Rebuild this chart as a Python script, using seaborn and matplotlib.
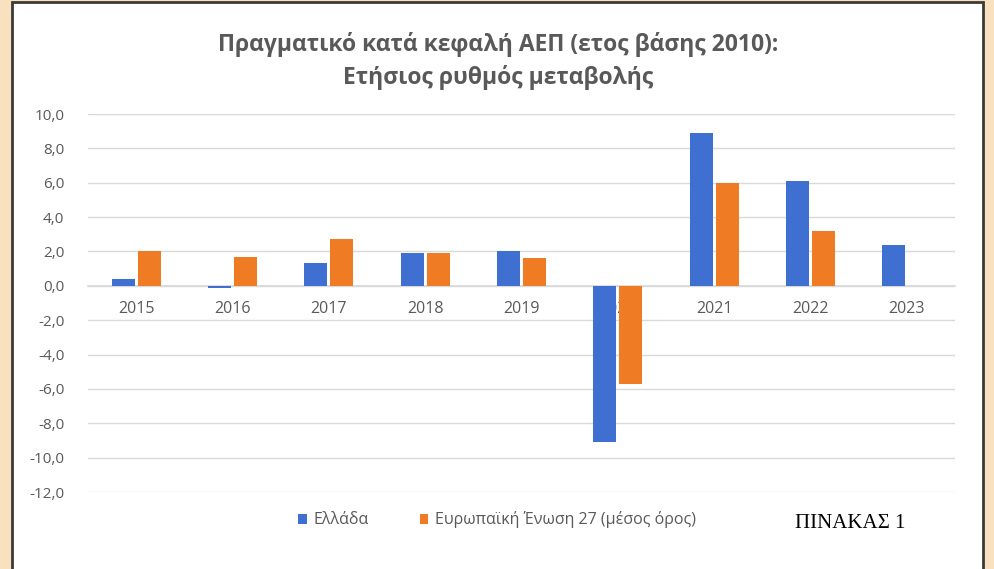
import numpy as np
import pandas as pd
import matplotlib
matplotlib.use("Agg")
import matplotlib.pyplot as plt
import seaborn as sns
from matplotlib.patches import Rectangle
from matplotlib.ticker import FuncFormatter

# --- data ---
years = ["2015", "2016", "2017", "2018", "2019", "2020", "2021", "2022", "2023"]
greece = [0.4, -0.1, 1.3, 1.9, 2.0, -9.1, 8.9, 6.1, 2.4]
eu27 = [2.0, 1.7, 2.7, 1.9, 1.6, -5.7, 6.0, 3.2, np.nan]
series_names = ["Ελλάδα", "Ευρωπαϊκή Ένωση 27 (μέσος όρος)"]
title = "Πραγματικό κατά κεφαλή ΑΕΠ (ετος βάσης 2010):\nΕτήσιος ρυθμός μεταβολής"
yticks = np.arange(-12, 11, 2)

df = pd.DataFrame({
    "year": years * 2,
    "value": greece + eu27,
    "series": [series_names[0]] * len(years) + [series_names[1]] * len(years),
})

sns.set_theme(style="white")
plt.rcParams["font.family"] = ["Open Sans", "DejaVu Sans"]

grey = "#595959"
fig = plt.figure(figsize=(9.95, 5.69), dpi=100)
fig.patch.set_facecolor("#F9E0BF")

# white chart area with dark frame
frame = Rectangle((12 / 995, -0.02), 971 / 995, 1 - 1.5 / 569 + 0.02,
                  transform=fig.transFigure, facecolor="white",
                  edgecolor="#3a3a3a", linewidth=2, zorder=0)
fig.add_artist(frame)

ax = fig.add_axes([88 / 995, 1 - 492 / 569, (955 - 88) / 995, (492 - 114) / 569])
ax.set_facecolor("none")

sns.barplot(data=df, x="year", y="value", hue="series",
            palette=["#3F6FD0", "#F07B25"], width=0.54, gap=0.12,
            saturation=1, linewidth=0, ax=ax, legend=True)

ax.set_ylim(-12, 10)
ax.set_yticks(yticks)
ax.yaxis.set_major_formatter(FuncFormatter(lambda v, p: f"{v:.1f}".replace(".", ",")))
ax.grid(axis="y", color="#D9D9D9", linewidth=1)
ax.grid(axis="x", visible=False)
ax.set_axisbelow(True)

for s in ["top", "right", "left"]:
    ax.spines[s].set_visible(False)
ax.spines["bottom"].set_position(("data", 0))
ax.spines["bottom"].set_color("#D9D9D9")
ax.spines["bottom"].set_zorder(0.5)

ax.tick_params(axis="x", length=0, pad=11, labelsize=11.5, labelcolor=grey)
ax.tick_params(axis="y", length=0, pad=17, labelsize=11, labelcolor=grey)
ax.set_xlabel("")
ax.set_ylabel("")

fig.text(498 / 995, 1 - 61 / 569, title, ha="center", va="center",
         fontsize=16.5, fontweight="bold", color=grey, linespacing=1.45)

handles, labels = ax.get_legend_handles_labels()
ax.legend(handles, labels, loc="center", bbox_to_anchor=(497 / 995, 1 - 520 / 569),
          bbox_transform=fig.transFigure, ncol=2, frameon=False,
          handlelength=0.55, handleheight=0.55, handletextpad=0.4,
          columnspacing=3.2, fontsize=11.5, labelcolor=grey)

fig.text(850 / 995, 1 - 523 / 569, "ΠΙΝΑΚΑΣ 1", ha="center", va="center",
         fontsize=15, family=["Liberation Serif", "DejaVu Serif"], color="black")

fig.savefig("out.png", dpi=100, facecolor=fig.get_facecolor())
